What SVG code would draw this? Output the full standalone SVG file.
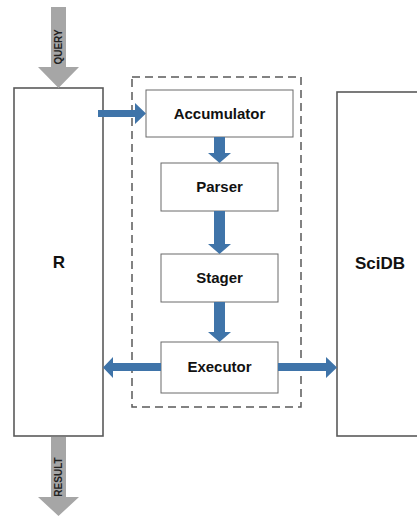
<svg xmlns="http://www.w3.org/2000/svg" width="417" height="516" viewBox="0 0 417 516">
<style>
.big{fill:#fff;stroke:#5a5a5a;stroke-width:1.6}
.box{fill:#fff;stroke:#6a6a6a;stroke-width:1}
.lbl{font-family:"Liberation Sans",Arial,sans-serif;font-weight:bold;font-size:15px;fill:#111;text-anchor:middle}
.big-lbl{font-family:"Liberation Sans",Arial,sans-serif;font-weight:bold;font-size:17px;fill:#111;text-anchor:middle}
.io{font-family:"Liberation Sans",Arial,sans-serif;font-weight:bold;font-size:10px;fill:#222;text-anchor:middle}
.blue{fill:#3f74a9}
.gray{fill:#a6a6a6}
</style>
<rect width="417" height="516" fill="#fff"/>
<g id="group-dashed">
<rect x="132" y="77" width="169" height="330" fill="none" stroke="#5a5a5a" stroke-width="1.5" stroke-dasharray="8,5"/>
</g>
<g id="node-R">
<rect class="big" x="14" y="88" width="89" height="348"/>
<text class="big-lbl" x="59" y="268">R</text>
</g>
<g id="node-SciDB">
<rect class="big" x="337" y="92" width="90" height="344"/>
<text class="big-lbl" x="380" y="269">SciDB</text>
</g>
<g id="node-Accumulator">
<rect class="box" x="146" y="90" width="147" height="47"/>
<text class="lbl" x="219.5" y="119">Accumulator</text>
</g>
<g id="node-Parser">
<rect class="box" x="161" y="163" width="117" height="48"/>
<text class="lbl" x="219.5" y="192">Parser</text>
</g>
<g id="node-Stager">
<rect class="box" x="161" y="254" width="117" height="48"/>
<text class="lbl" x="219.5" y="283">Stager</text>
</g>
<g id="node-Executor">
<rect class="box" x="161" y="342" width="117" height="51"/>
<text class="lbl" x="219.5" y="372">Executor</text>
</g>
<g id="connectors">
<polygon id="query" class="gray" points="51,7 66,7 66,67 79,67 58.5,88 38,67 51,67"/>
<text class="io" transform="translate(62,47) rotate(-90)">QUERY</text>
<polygon id="result" class="gray" points="51,437 66,437 66,497 79,497 58.5,516 38,497 51,497"/>
<text class="io" transform="translate(62,477) rotate(-90)">RESULT</text>
<polygon id="r-acc" class="blue" points="98,110 135,110 135,103 146,113.5 135,124 135,117 98,117"/>
<polygon id="acc-parser" class="blue" points="214,137 225,137 225,153 231,153 219.5,163 208,153 214,153"/>
<polygon id="parser-stager" class="blue" points="214,211 225,211 225,244 231,244 219.5,254 208,244 214,244"/>
<polygon id="stager-exec" class="blue" points="214,302 225,302 225,332 231,332 219.5,342 208,332 214,332"/>
<polygon id="exec-r" class="blue" points="161,363 113,363 113,357 103,367.5 113,378 113,371 161,371"/>
<polygon id="exec-scidb" class="blue" points="278,363 326,363 326,357 337,367.5 326,378 326,371 278,371"/>
</g>
</svg>
